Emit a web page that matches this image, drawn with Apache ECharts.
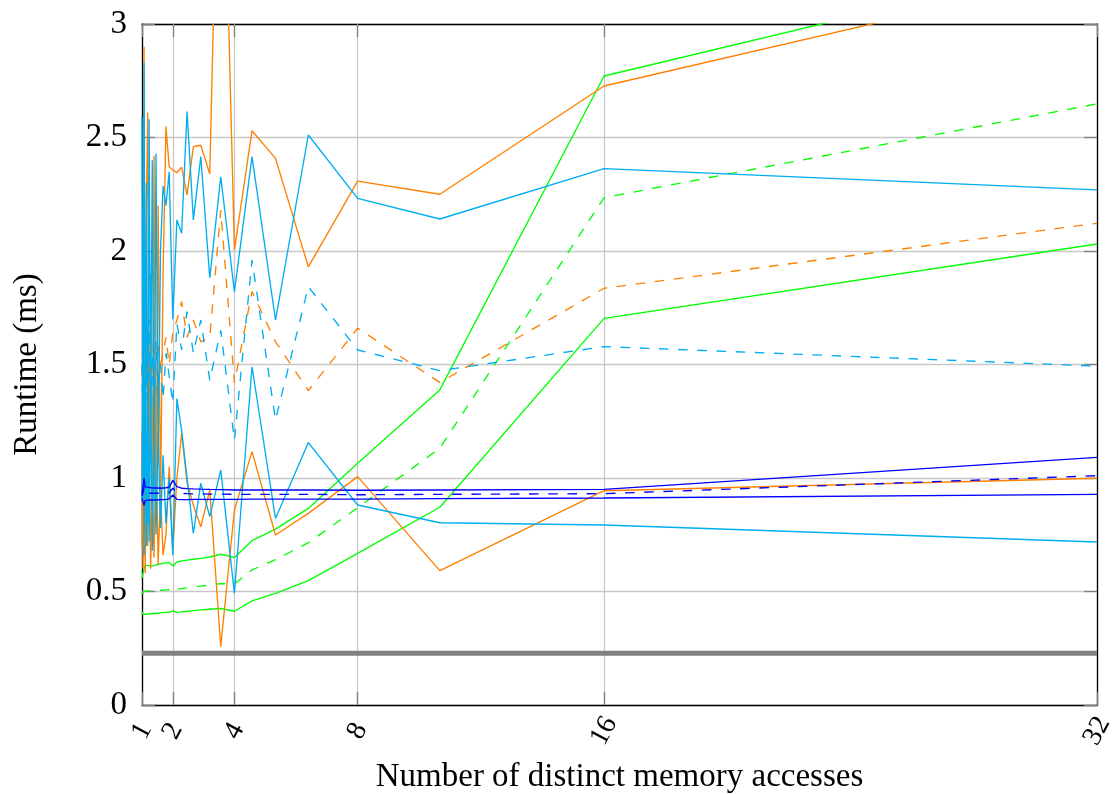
<!DOCTYPE html>
<html>
<head>
<meta charset="utf-8">
<script src="https://cdn.jsdelivr.net/npm/echarts@6/dist/echarts.min.js"></script>
<style>
  html, body { margin: 0; padding: 0; background: #fff; }
  #chart { width: 1115px; height: 794px; }
</style>
</head>
<body>
<div id="chart"></div>
<script>
// x positions: number of distinct memory accesses per run
const accessCounts = [1, 1.032, 1.067, 1.103, 1.143, 1.185, 1.231, 1.28, 1.333, 1.391, 1.455, 1.524, 1.6, 1.684, 1.778, 1.882,
  2, 2.133, 2.286, 2.462, 2.667, 2.909, 3.2, 3.556, 4, 4.571, 5.333, 6.4, 8, 10.667, 16, 32];

const xTicks = [1, 2, 4, 8, 16, 32];

// runtimes in ms (upper, mean, lower) per variant
const greenHigh = [0.56, 0.58, 0.60, 0.615, 0.62, 0.615, 0.618, 0.612, 0.616, 0.614, 0.618, 0.62, 0.622, 0.624, 0.626, 0.628,
  0.612, 0.63, 0.635, 0.638, 0.642, 0.646, 0.652, 0.664, 0.65, 0.724, 0.775, 0.866, 1.065, 1.388, 2.771, 3.29];
const greenMean = [0.49, 0.495, 0.50, 0.498, 0.502, 0.50, 0.503, 0.501, 0.504, 0.502, 0.505, 0.503, 0.506, 0.505, 0.507, 0.508,
  0.498, 0.51, 0.513, 0.516, 0.52, 0.524, 0.528, 0.535, 0.533, 0.595, 0.64, 0.715, 0.869, 1.131, 2.235, 2.648];
const greenLow = [0.41, 0.40, 0.395, 0.40, 0.403, 0.401, 0.404, 0.402, 0.405, 0.403, 0.406, 0.404, 0.406, 0.407, 0.408, 0.408,
  0.415, 0.408, 0.41, 0.413, 0.416, 0.419, 0.422, 0.425, 0.413, 0.459, 0.492, 0.548, 0.668, 0.871, 1.703, 2.031];

const orangeHigh = [0.70, 1.6, 2.90, 0.85, 2.2, 2.61, 0.9, 1.9, 0.75, 2.42, 0.8, 2.2, 0.9, 1.9, 2.548, 2.371,
  2.357, 2.345, 2.369, 2.247, 2.46, 2.466, 2.339, 4.4, 2.004, 2.53, 2.408, 1.93, 2.308, 2.25, 2.727, 3.23];
const orangeMean = [1.45, 1.7, 1.3, 1.75, 1.4, 1.65, 1.25, 1.6, 1.45, 1.7, 1.35, 1.6, 1.5, 1.55, 1.62, 1.5,
  1.64, 1.696, 1.777, 1.62, 1.696, 1.6, 1.62, 2.18, 1.42, 1.821, 1.60, 1.385, 1.66, 1.421, 1.836, 2.122];
const orangeLow = [1.2, 0.6, 1.4, 0.58, 1.1, 0.7, 1.3, 0.6, 1.0, 0.65, 1.2, 0.62, 0.95, 0.66, 0.75, 1.05,
  0.68, 1.0, 1.197, 0.98, 0.88, 0.785, 0.947, 0.257, 0.859, 1.116, 0.749, 0.844, 1.006, 0.592, 0.944, 0.999];

const cyanHigh = [2.59, 0.9, 2.83, 1.2, 2.3, 0.8, 2.58, 1.3, 2.40, 0.9, 2.43, 1.1, 2.0, 2.286, 2.20, 2.349,
  1.70, 2.137, 2.078, 2.614, 2.137, 2.416, 1.881, 2.327, 1.821, 2.416, 1.696, 2.511, 2.232, 2.141, 2.363, 2.269];
const cyanMean = [1.5, 1.2, 1.8, 1.3, 1.65, 1.1, 1.7, 1.35, 1.55, 1.25, 1.6, 1.4, 1.5, 1.35, 1.55, 1.45,
  1.33, 1.68, 1.564, 1.733, 1.55, 1.696, 1.43, 1.65, 1.167, 1.96, 1.256, 1.843, 1.564, 1.473, 1.579, 1.493];
const cyanLow = [0.9, 1.8, 0.66, 1.5, 0.7, 1.6, 0.72, 1.4, 0.68, 1.3, 0.75, 1.2, 0.78, 1.1, 0.8, 1.0,
  0.66, 1.35, 1.21, 1.0, 0.756, 0.977, 0.83, 1.035, 0.492, 1.49, 0.822, 1.156, 0.881, 0.803, 0.793, 0.718];

const blueHigh = [0.93, 0.96, 1.0, 0.96, 0.955, 0.96, 0.955, 0.957, 0.955, 0.956, 0.955, 0.956, 0.955, 0.956, 0.957, 0.96,
  0.99, 0.962, 0.955, 0.953, 0.952, 0.951, 0.95, 0.949, 0.947, 0.947, 0.947, 0.947, 0.946, 0.947, 0.95, 1.091];
const blueMean = [0.92, 0.935, 0.96, 0.935, 0.932, 0.933, 0.932, 0.933, 0.932, 0.933, 0.932, 0.933, 0.932, 0.933, 0.934, 0.935,
  0.955, 0.936, 0.932, 0.931, 0.93, 0.93, 0.929, 0.929, 0.928, 0.928, 0.928, 0.928, 0.926, 0.928, 0.931, 1.010];
const blueLow = [0.91, 0.895, 0.88, 0.9, 0.903, 0.902, 0.904, 0.903, 0.904, 0.903, 0.904, 0.904, 0.905, 0.905, 0.906, 0.908,
  0.925, 0.906, 0.905, 0.905, 0.906, 0.906, 0.906, 0.906, 0.906, 0.907, 0.907, 0.907, 0.907, 0.909, 0.912, 0.928];

// constant reference runtime
const baselineRuntime = 0.228;

const FONT = 'Liberation Serif';
const TICK_GRAY = '#7f7f7f';
const GRID_GRAY = '#c8c8c8';
const LW = 1.35;
const DASH = [9.6, 9.6];

function pairs(values) {
  return accessCounts.map((x, i) => [x, values[i]]);
}

function lineSeries(values, color, dashed) {
  return {
    type: 'line',
    data: pairs(values),
    showSymbol: false,
    symbol: 'none',
    clip: true,
    silent: true,
    animation: false,
    lineStyle: { color: color, width: LW, type: dashed ? DASH : 'solid' }
  };
}

const GREEN = '#00ff00', ORANGE = '#ff8000', CYAN = '#00aeef', BLUE = '#0000ff';

const series = [
  lineSeries(greenHigh, GREEN, false),
  lineSeries(greenMean, GREEN, true),
  lineSeries(greenLow, GREEN, false),
  lineSeries(orangeHigh, ORANGE, false),
  lineSeries(orangeMean, ORANGE, true),
  lineSeries(orangeLow, ORANGE, false),
  lineSeries(cyanHigh, CYAN, false),
  lineSeries(cyanMean, CYAN, true),
  lineSeries(cyanLow, CYAN, false),
  lineSeries(blueHigh, BLUE, false),
  lineSeries(blueMean, BLUE, true),
  lineSeries(blueLow, BLUE, false),
  {
    type: 'line',
    data: [[accessCounts[0], baselineRuntime], [accessCounts[accessCounts.length - 1], baselineRuntime]],
    showSymbol: false,
    symbol: 'none',
    silent: true,
    animation: false,
    lineStyle: { color: '#808080', width: 5.2 }
  }
];

const chart = echarts.init(document.getElementById('chart'), null, { renderer: 'canvas' });

const xCommon = {
  type: 'value',
  min: 1,
  max: 32,
  axisLine: { show: true, onZero: false, lineStyle: { color: '#000', width: 1.3 } },
  axisTick: { show: true, inside: true, length: 13, customValues: xTicks, lineStyle: { color: TICK_GRAY, width: 1.3 } }
};

const yCommon = {
  type: 'value',
  min: 0,
  max: 3,
  interval: 0.5,
  axisLine: { show: true, onZero: false, lineStyle: { color: '#000', width: 1.3 } },
  axisTick: { show: true, inside: true, length: 13, lineStyle: { color: TICK_GRAY, width: 1.3 } }
};

chart.setOption({
  animation: false,
  backgroundColor: '#fff',
  grid: { left: 142, top: 24, right: 18, bottom: 89, containLabel: false, outerBoundsMode: 'none' },
  xAxis: [
    Object.assign({}, xCommon, {
      position: 'bottom',
      name: 'Number of distinct memory accesses',
      nameLocation: 'middle',
      nameGap: 56,
      nameTextStyle: { fontFamily: FONT, fontSize: 33, color: '#000' },
      axisLabel: {
        customValues: xTicks,
        rotate: 62,
        margin: 26,
        align: 'center',
        verticalAlign: 'middle',
        showMinLabel: true,
        showMaxLabel: true,
        hideOverlap: false,
        fontFamily: FONT,
        fontSize: 28,
        color: '#000'
      },
      splitLine: { show: true, lineStyle: { color: GRID_GRAY, width: 1.3 } }
    }),
    Object.assign({}, xCommon, {
      position: 'top',
      axisLabel: { show: false },
      splitLine: { show: false }
    })
  ],
  yAxis: [
    Object.assign({}, yCommon, {
      position: 'left',
      name: 'Runtime (ms)',
      nameLocation: 'middle',
      nameGap: 98,
      nameRotate: 90,
      nameTextStyle: { fontFamily: FONT, fontSize: 33, color: '#000' },
      axisLabel: { margin: 15, fontFamily: FONT, fontSize: 33, color: '#000' },
      splitLine: { show: true, lineStyle: { color: GRID_GRAY, width: 1.3 } }
    }),
    Object.assign({}, yCommon, {
      position: 'right',
      axisLabel: { show: false },
      splitLine: { show: false }
    })
  ],
  series: series
});
</script>
</body>
</html>
